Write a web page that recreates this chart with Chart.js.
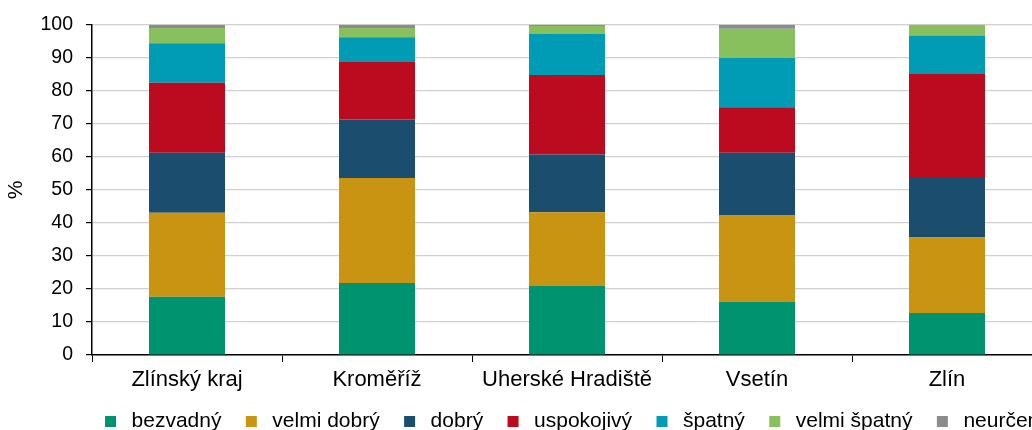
<!DOCTYPE html>
<html>
<head>
<meta charset="utf-8">
<script src="https://cdn.jsdelivr.net/npm/chart.js@4/dist/chart.umd.min.js"></script>
<style>
  html, body { margin: 0; padding: 0; background: #fff; }
  #wrap { width: 1032px; height: 430px; overflow: hidden; position: relative; }
  canvas { display: block; }
</style>
</head>
<body>
<div id="wrap">
  <canvas id="chart" width="1151" height="442"></canvas>
</div>
<script>
// podíly hodnocení (%) podle území
var categories = ['Zlínský kraj', 'Kroměříž', 'Uherské Hradiště', 'Vsetín', 'Zlín'];
var bezvadny    = [17.6, 21.8, 20.9, 16.2, 12.7];
var velmiDobry  = [25.5, 31.8, 22.3, 26.2, 22.9];
var dobry       = [18.1, 17.7, 17.5, 18.8, 18.3];
var uspokojivy  = [21.2, 17.4, 24.1, 13.8, 31.2];
var spatny      = [12.0,  7.5, 12.4, 14.9, 11.6];
var velmiSpatny = [ 4.6,  2.8,  2.4,  8.9,  3.0];
var neurceno    = [ 1.0,  1.0,  0.4,  1.2,  0.3];
var yTicks = [0, 10, 20, 30, 40, 50, 60, 70, 80, 90, 100];

var FONT = "'Liberation Sans', Arial, sans-serif";

function ds(label, data, color) {
  return {
    label: label,
    data: data,
    backgroundColor: color,
    borderWidth: 0,
    barPercentage: 0.4,
    categoryPercentage: 1.0
  };
}

var ctx = document.getElementById('chart').getContext('2d');
var chart = new Chart(ctx, {
  type: 'bar',
  data: {
    labels: categories,
    datasets: [
      ds('bezvadný', bezvadny, '#009370'),
      ds('velmi dobrý', velmiDobry, '#C99412'),
      ds('dobrý', dobry, '#1A4D6E'),
      ds('uspokojivý', uspokojivy, '#BC0A1E'),
      ds('špatný', spatny, '#009BB5'),
      ds('velmi špatný', velmiSpatny, '#88C05E'),
      ds('neurčeno', neurceno, '#8C8C8C')
    ]
  },
  options: {
    responsive: false,
    animation: false,
    layout: { padding: { top: 23, left: 0, right: 0, bottom: 0 } },
    plugins: {
      tooltip: { enabled: false },
      legend: {
        position: 'bottom',
        labels: {
          usePointStyle: true,
          pointStyle: 'rect',
          boxWidth: 21,
          boxHeight: 11,
          padding: 19.4,
          color: '#000',
          font: { family: FONT, size: 21 }
        }
      }
    },
    scales: {
      x: {
        stacked: true,
        offset: true,
        afterFit: function (scale) { scale.height = 36.6; },
        grid: {
          display: true,
          drawOnChartArea: false,
          drawTicks: true,
          tickLength: 7,
          tickColor: '#000',
          offset: true
        },
        border: { color: '#000', width: 1.5 },
        ticks: {
          color: '#000',
          padding: 7,
          maxRotation: 0,
          font: { family: FONT, size: 22, lineHeight: 1.03 }
        }
      },
      y: {
        stacked: true,
        min: 0,
        max: 100,
        afterBuildTicks: function (scale) {
          scale.ticks = yTicks.map(function (v) { return { value: v }; });
        },
        afterFit: function (scale) { scale.width = 92; },
        grid: {
          color: '#d0d0d0',
          lineWidth: 1.2,
          drawTicks: true,
          tickLength: 6,
          tickColor: '#000'
        },
        border: { color: '#000', width: 1.5 },
        ticks: {
          color: '#000',
          padding: 13,
          font: { family: FONT, size: 19.5 }
        },
        title: {
          display: true,
          text: '%',
          color: '#000',
          padding: { top: 4, bottom: 0 },
          font: { family: FONT, size: 21 }
        }
      },
      // prázdná osa vpravo = pravý okraj původního grafu (legenda je centrovaná na celou šířku)
      yRight: {
        position: 'right',
        display: true,
        grid: { display: false, drawTicks: false },
        border: { display: false },
        ticks: { display: false },
        afterFit: function (scale) { scale.width = 109; }
      }
    }
  }
});
</script>
</body>
</html>
